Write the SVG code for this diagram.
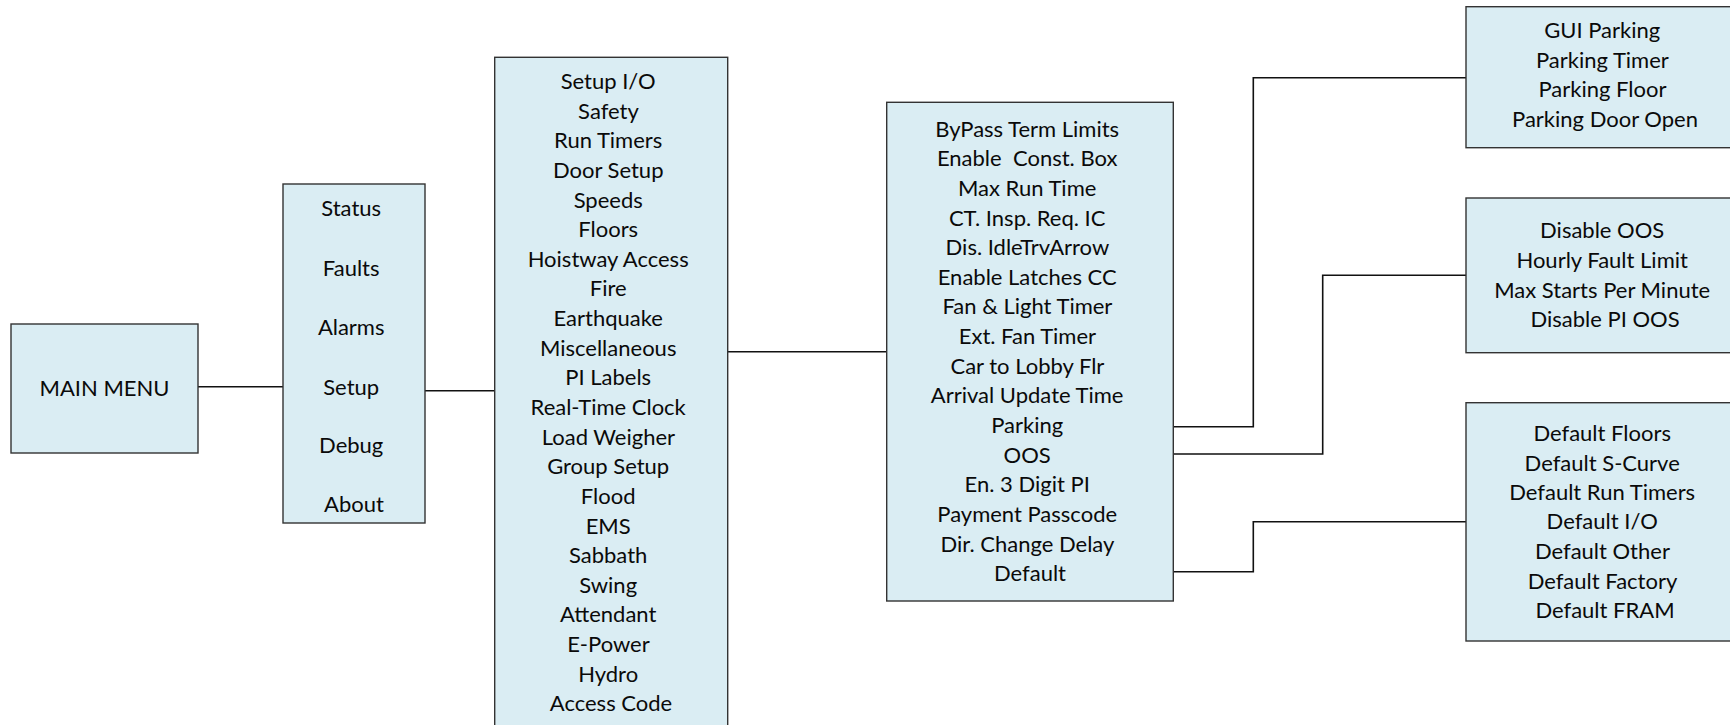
<svg xmlns="http://www.w3.org/2000/svg" width="1730" height="725" viewBox="0 0 1730 725">
  <style>
    .box { fill: #daedf3; stroke: #333333; stroke-width: 1.4; }
    .lbl { font-family: Lato, "Open Sans", sans-serif; font-size: 22px; fill: #0a0a0a; text-anchor: middle; }
    .wire { fill: none; stroke: #111111; stroke-width: 1.6; }
  </style>
  <rect width="1730" height="725" fill="#ffffff"/>

  <!-- connectors -->
  <g id="connectors">
    <path class="wire" d="M198 386.7 H283"/>
    <path class="wire" d="M425 390.7 H495"/>
    <path class="wire" d="M727.7 351.7 H886.7"/>
    <path class="wire" d="M1173.3 426.7 H1253.3 V77.7 H1466"/>
    <path class="wire" d="M1173.3 454 H1322.7 V275.3 H1466"/>
    <path class="wire" d="M1173.3 571.7 H1253.3 V521.7 H1466"/>
  </g>

  <g id="main-menu">
    <rect class="box" x="11" y="324" width="187" height="129"/>
    <text class="lbl" x="104.5" y="396">MAIN MENU</text>
  </g>

  <g id="top-menu">
    <rect class="box" x="283" y="184" width="142" height="339"/>
    <text class="lbl">
      <tspan x="354" y="216">Status</tspan>
      <tspan x="354" y="275.5">Faults</tspan>
      <tspan x="354" y="335">Alarms</tspan>
      <tspan x="354" y="394.5">Setup</tspan>
      <tspan x="354" y="453">Debug</tspan>
      <tspan x="354" y="511.7">About</tspan>
    </text>
  </g>

  <g id="setup-menu">
    <rect class="box" x="494.7" y="57.3" width="233" height="680"/>
    <text class="lbl">
      <tspan x="611" y="89">Setup I/O</tspan>
      <tspan x="611" y="118.6">Safety</tspan>
      <tspan x="611" y="148.3">Run Timers</tspan>
      <tspan x="611" y="177.9">Door Setup</tspan>
      <tspan x="611" y="207.5">Speeds</tspan>
      <tspan x="611" y="237.2">Floors</tspan>
      <tspan x="611" y="266.8">Hoistway Access</tspan>
      <tspan x="611" y="296.4">Fire</tspan>
      <tspan x="611" y="326">Earthquake</tspan>
      <tspan x="611" y="355.7">Miscellaneous</tspan>
      <tspan x="611" y="385.3">PI Labels</tspan>
      <tspan x="611" y="414.9">Real-Time Clock</tspan>
      <tspan x="611" y="444.6">Load Weigher</tspan>
      <tspan x="611" y="474.2">Group Setup</tspan>
      <tspan x="611" y="503.8">Flood</tspan>
      <tspan x="611" y="533.5">EMS</tspan>
      <tspan x="611" y="563.1">Sabbath</tspan>
      <tspan x="611" y="592.7">Swing</tspan>
      <tspan x="611" y="622.3">Attendant</tspan>
      <tspan x="611" y="652">E-Power</tspan>
      <tspan x="611" y="681.6">Hydro</tspan>
      <tspan x="611" y="711.2">Access Code</tspan>
    </text>
  </g>

  <g id="misc-menu">
    <rect class="box" x="886.7" y="102.3" width="286.6" height="498.7"/>
    <text class="lbl">
      <tspan x="1030" y="136.6">ByPass Term Limits</tspan>
      <tspan x="1030" y="166.2">Enable&#160; Const. Box</tspan>
      <tspan x="1030" y="195.9">Max Run Time</tspan>
      <tspan x="1030" y="225.5">CT. Insp. Req. IC</tspan>
      <tspan x="1030" y="255.2">Dis. IdleTrvArrow</tspan>
      <tspan x="1030" y="284.8">Enable Latches CC</tspan>
      <tspan x="1030" y="314.4">Fan &amp; Light Timer</tspan>
      <tspan x="1030" y="344.1">Ext. Fan Timer</tspan>
      <tspan x="1030" y="373.7">Car to Lobby Flr</tspan>
      <tspan x="1030" y="403.4">Arrival Update Time</tspan>
      <tspan x="1030" y="433">Parking</tspan>
      <tspan x="1030" y="462.6">OOS</tspan>
      <tspan x="1030" y="492.3">En. 3 Digit PI</tspan>
      <tspan x="1030" y="521.9">Payment Passcode</tspan>
      <tspan x="1030" y="551.6">Dir. Change Delay</tspan>
      <tspan x="1030" y="581.2">Default</tspan>
    </text>
  </g>

  <g id="parking-menu">
    <rect class="box" x="1466" y="6.7" width="280" height="141"/>
    <text class="lbl">
      <tspan x="1605" y="38.4">GUI Parking</tspan>
      <tspan x="1605" y="68.2">Parking Timer</tspan>
      <tspan x="1605" y="96.9">Parking Floor</tspan>
      <tspan x="1605" y="126.7">Parking Door Open</tspan>
    </text>
  </g>

  <g id="oos-menu">
    <rect class="box" x="1466" y="198" width="280" height="154.7"/>
    <text class="lbl">
      <tspan x="1605" y="238">Disable OOS</tspan>
      <tspan x="1605" y="267.8">Hourly Fault Limit</tspan>
      <tspan x="1605" y="297.6">Max Starts Per Minute</tspan>
      <tspan x="1605" y="327.4">Disable PI OOS</tspan>
    </text>
  </g>

  <g id="default-menu">
    <rect class="box" x="1466" y="402.7" width="280" height="238.3"/>
    <text class="lbl">
      <tspan x="1605" y="441">Default Floors</tspan>
      <tspan x="1605" y="470.6">Default S-Curve</tspan>
      <tspan x="1605" y="500">Default Run Timers</tspan>
      <tspan x="1605" y="529.4">Default I/O</tspan>
      <tspan x="1605" y="559">Default Other</tspan>
      <tspan x="1605" y="588.5">Default Factory</tspan>
      <tspan x="1605" y="618">Default FRAM</tspan>
    </text>
  </g>
</svg>
